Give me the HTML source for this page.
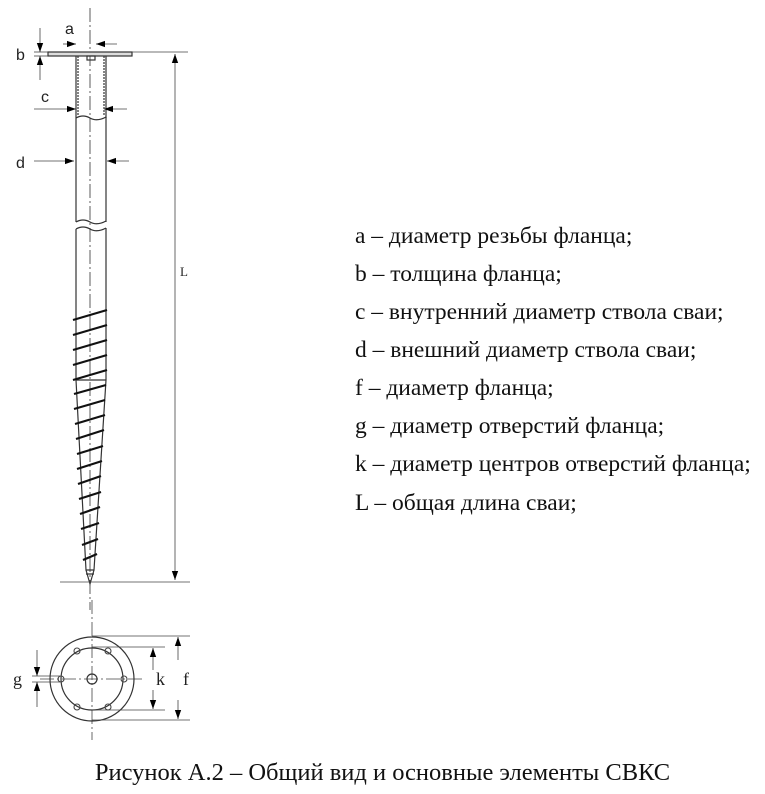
<!DOCTYPE html>
<html><head><meta charset="utf-8"><style>
body{margin:0;background:#fff;width:765px;height:794px;overflow:hidden;position:relative;font-family:"Liberation Serif",serif;}
.t{position:absolute;left:355px;font-size:23.5px;color:#111;white-space:nowrap;line-height:26px}
</style></head><body>
<svg width="765" height="794" style="position:absolute;left:0;top:0" font-family="Liberation Sans, sans-serif">
<defs><marker id="a" viewBox="0 0 10 10" refX="10" refY="5" markerWidth="14" markerHeight="9" markerUnits="userSpaceOnUse" orient="auto-start-reverse"><path d="M0,1.5 L10,5 L0,8.5z" fill="#000"/></marker></defs>
<g stroke="#333" fill="none" stroke-width="1.2">
<line x1="90" y1="8" x2="90" y2="610" stroke-dasharray="14,3,2,3" stroke-width="0.8"/>
<rect x="48" y="52" width="84" height="4" fill="#ddd"/>
<rect x="87" y="56" width="8" height="4"/>
<line x1="76" y1="56" x2="76" y2="118"/><line x1="106" y1="56" x2="106" y2="118"/>
<line x1="78" y1="56" x2="78" y2="115" stroke-dasharray="2,1"/><line x1="104" y1="56" x2="104" y2="115" stroke-dasharray="2,1"/>
<path d="M76,118 Q83,114 90,118 T106,117"/>
<line x1="76" y1="118" x2="76" y2="222"/><line x1="106" y1="117" x2="106" y2="222"/>
<path d="M76,222 Q83,218 90,222 T106,221"/>
<path d="M76,229 Q83,225 90,229 T106,228"/>
<line x1="76" y1="229" x2="76" y2="380"/><line x1="106" y1="228" x2="106" y2="380"/>
<line x1="76" y1="380" x2="106" y2="380"/>
<path d="M76,380 L86,570 L94,570 L106,380"/>
<path d="M86,570 L90,584 L94,570 M86,574 L94,574"/>
</g>
<g stroke="#111" stroke-width="2.2">
<line x1="73" y1="320" x2="107" y2="310"/><line x1="73" y1="335" x2="107" y2="325"/><line x1="73" y1="350" x2="107" y2="340"/>
<line x1="73" y1="365" x2="107" y2="355"/><line x1="73" y1="380" x2="107" y2="370"/><line x1="74" y1="394" x2="106" y2="385"/>
<line x1="74" y1="409" x2="105" y2="400"/><line x1="75" y1="424" x2="105" y2="415"/><line x1="76" y1="439" x2="104" y2="430"/>
<line x1="77" y1="454" x2="103" y2="446"/><line x1="77" y1="469" x2="102" y2="461"/><line x1="78" y1="484" x2="101" y2="476"/>
<line x1="79" y1="499" x2="101" y2="492"/><line x1="80" y1="514" x2="100" y2="507"/><line x1="81" y1="529" x2="99" y2="523"/>
<line x1="82" y1="545" x2="98" y2="539"/><line x1="83" y1="560" x2="97" y2="554"/>
</g>
<g stroke="#444" stroke-width="0.8" fill="none">
<line x1="63" y1="44" x2="76" y2="44" marker-end="url(#a)"/><line x1="117" y1="44" x2="96" y2="44" marker-end="url(#a)"/>
<line x1="40" y1="28" x2="40" y2="52" marker-end="url(#a)"/><line x1="40" y1="80" x2="40" y2="56" marker-end="url(#a)"/>
<line x1="34" y1="52" x2="48" y2="52"/><line x1="34" y1="56" x2="48" y2="56"/>
<line x1="132" y1="52" x2="188" y2="52"/><line x1="60" y1="582" x2="190" y2="582"/>
<line x1="175" y1="100" x2="175" y2="54" marker-end="url(#a)"/><line x1="175" y1="100" x2="175" y2="580" marker-end="url(#a)"/>
<line x1="34" y1="109" x2="76" y2="109" marker-end="url(#a)"/><line x1="127" y1="109" x2="104" y2="109" marker-end="url(#a)"/>
<line x1="34" y1="161" x2="74" y2="161" marker-end="url(#a)"/><line x1="129" y1="161" x2="107" y2="161" marker-end="url(#a)"/>
<line x1="92" y1="600" x2="92" y2="740" stroke-dasharray="14,3,2,3"/>
<line x1="40" y1="679" x2="145" y2="679" stroke-dasharray="14,3,2,3"/>
<circle cx="92" cy="679" r="42" stroke="#333" stroke-width="1.2"/>
<circle cx="92" cy="679" r="31" stroke="#333" stroke-width="1.2"/>
<circle cx="92" cy="679" r="5" stroke="#333" stroke-width="1.2"/>
<g stroke-width="1.1"><circle cx="77" cy="651" r="3"/><circle cx="108" cy="651" r="3"/><circle cx="61" cy="679" r="3"/><circle cx="124" cy="679" r="3"/><circle cx="77" cy="707" r="3"/><circle cx="108" cy="707" r="3"/></g>
<line x1="92" y1="647" x2="165" y2="647"/><line x1="92" y1="710" x2="165" y2="710"/>
<line x1="92" y1="636" x2="190" y2="636"/><line x1="92" y1="720" x2="190" y2="720"/>
<line x1="153" y1="670" x2="153" y2="648" marker-end="url(#a)"/><line x1="153" y1="690" x2="153" y2="709" marker-end="url(#a)"/>
<line x1="178" y1="660" x2="178" y2="637" marker-end="url(#a)"/><line x1="178" y1="700" x2="178" y2="719" marker-end="url(#a)"/>
<line x1="37" y1="650" x2="37" y2="676" marker-end="url(#a)"/><line x1="37" y1="707" x2="37" y2="682" marker-end="url(#a)"/>
<line x1="32" y1="676" x2="60" y2="676"/><line x1="32" y1="682" x2="60" y2="682"/>
</g>
<g font-size="16" fill="#222">
<text x="65" y="34">a</text><text x="16" y="60">b</text><text x="41" y="102">c</text><text x="16" y="168">d</text>
<text x="180" y="276" font-family="Liberation Serif" font-size="13">L</text>
</g>
<g font-family="Liberation Serif" font-size="18" fill="#222">
<text x="156" y="685">k</text><text x="183" y="685">f</text><text x="13" y="685">g</text>
</g>
</svg>
<div class="t" style="top:223px">a – диаметр резьбы фланца;</div>
<div class="t" style="top:261px">b – толщина фланца;</div>
<div class="t" style="top:299px">c – внутренний диаметр ствола сваи;</div>
<div class="t" style="top:337px">d – внешний диаметр ствола сваи;</div>
<div class="t" style="top:375px">f – диаметр фланца;</div>
<div class="t" style="top:413px">g – диаметр отверстий фланца;</div>
<div class="t" style="top:451px">k – диаметр центров отверстий фланца;</div>
<div class="t" style="top:490px">L – общая длина сваи;</div>
<div style="position:absolute;left:0;width:765px;top:759px;text-align:center;font-size:24.5px;color:#111">Рисунок А.2 – Общий вид и основные элементы СВКС</div>
</body></html>
